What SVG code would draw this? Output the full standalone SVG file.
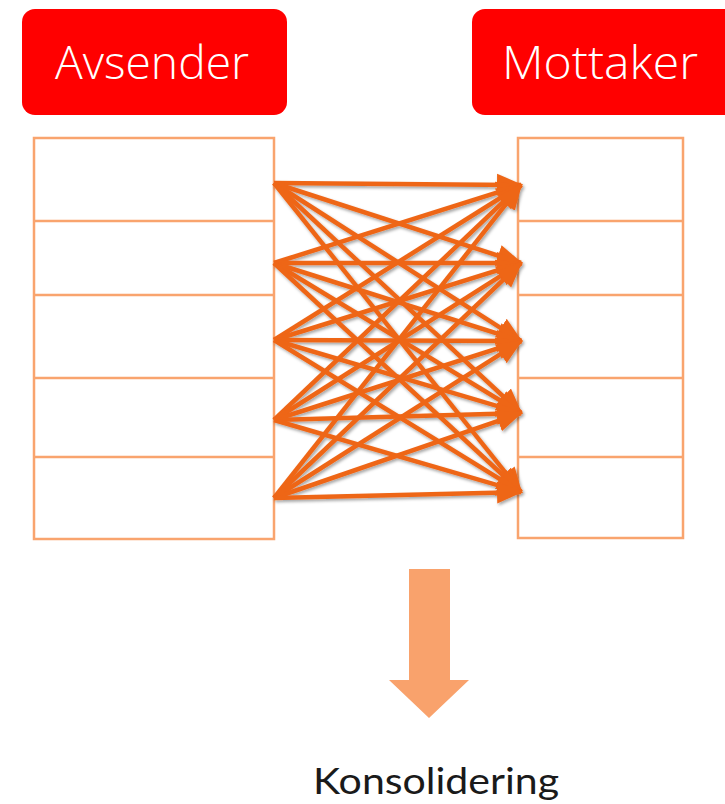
<svg xmlns="http://www.w3.org/2000/svg" width="725" height="804" viewBox="0 0 725 804">
<style>
.hdr{fill:#FF0000}
.hdrtxt{fill:#FFFFFF;font-family:"Open Sans","Liberation Sans",sans-serif;font-weight:300;font-size:46px}
.tbl{fill:#FFFFFF;stroke:#F9A46E;stroke-width:2.5}
.row{stroke:#F9A46E;stroke-width:2.5}
.con{stroke:#EE6618;stroke-width:4.5;fill:none;marker-end:url(#ah)}
.lbl{fill:#1A1A1A;font-family:Lato,"Liberation Sans",sans-serif;font-size:37px}
</style>
<defs>
<marker id="ah" markerUnits="userSpaceOnUse" markerWidth="26" markerHeight="26" viewBox="0 0 26 26" refX="24" refY="13" orient="auto">
<path d="M0,2 L26,13 L0,24 Z" fill="#EE6618"/>
</marker>
<filter id="sh" x="-10%" y="-10%" width="120%" height="120%">
<feDropShadow dx="1.5" dy="2" stdDeviation="1.5" flood-color="#000" flood-opacity="0.35"/>
</filter>
</defs>
<rect width="725" height="804" fill="#FFFFFF"/>
<g id="avsender">
<rect class="hdr" x="22" y="9" width="265" height="106" rx="13"/>
<text class="hdrtxt" x="152" y="79" text-anchor="middle" textLength="194" lengthAdjust="spacingAndGlyphs">Avsender</text>
</g>
<g id="mottaker">
<rect class="hdr" x="472" y="9" width="270" height="106" rx="13"/>
<text class="hdrtxt" x="600" y="79" text-anchor="middle" textLength="196" lengthAdjust="spacingAndGlyphs">Mottaker</text>
</g>
<g id="sender-table">
<rect class="tbl" x="34" y="138" width="240" height="401"/>
<line class="row" x1="34" y1="221" x2="274" y2="221"/>
<line class="row" x1="34" y1="295" x2="274" y2="295"/>
<line class="row" x1="34" y1="378" x2="274" y2="378"/>
<line class="row" x1="34" y1="457" x2="274" y2="457"/>
</g>
<g id="receiver-table">
<rect class="tbl" x="518" y="138" width="165" height="400"/>
<line class="row" x1="518" y1="221" x2="683" y2="221"/>
<line class="row" x1="518" y1="295" x2="683" y2="295"/>
<line class="row" x1="518" y1="378" x2="683" y2="378"/>
<line class="row" x1="518" y1="457" x2="683" y2="457"/>
</g>
<g id="connectors" filter="url(#sh)">
<line class="con" x1="274" y1="183" x2="521" y2="185"/>
<line class="con" x1="274" y1="183" x2="521" y2="263"/>
<line class="con" x1="274" y1="183" x2="521" y2="341"/>
<line class="con" x1="274" y1="183" x2="521" y2="413"/>
<line class="con" x1="274" y1="183" x2="521" y2="492"/>
<line class="con" x1="274" y1="263" x2="521" y2="185"/>
<line class="con" x1="274" y1="263" x2="521" y2="263"/>
<line class="con" x1="274" y1="263" x2="521" y2="341"/>
<line class="con" x1="274" y1="263" x2="521" y2="413"/>
<line class="con" x1="274" y1="263" x2="521" y2="492"/>
<line class="con" x1="274" y1="340" x2="521" y2="185"/>
<line class="con" x1="274" y1="340" x2="521" y2="263"/>
<line class="con" x1="274" y1="340" x2="521" y2="341"/>
<line class="con" x1="274" y1="340" x2="521" y2="413"/>
<line class="con" x1="274" y1="340" x2="521" y2="492"/>
<line class="con" x1="274" y1="420" x2="521" y2="185"/>
<line class="con" x1="274" y1="420" x2="521" y2="263"/>
<line class="con" x1="274" y1="420" x2="521" y2="341"/>
<line class="con" x1="274" y1="420" x2="521" y2="413"/>
<line class="con" x1="274" y1="420" x2="521" y2="492"/>
<line class="con" x1="274" y1="498" x2="521" y2="185"/>
<line class="con" x1="274" y1="498" x2="521" y2="263"/>
<line class="con" x1="274" y1="498" x2="521" y2="341"/>
<line class="con" x1="274" y1="498" x2="521" y2="413"/>
<line class="con" x1="274" y1="498" x2="521" y2="492"/>
</g>
<g id="konsolidering">
<path d="M409,569 H450 V680 H469 L429,718 L389,680 H409 Z" fill="#F9A26C"/>
<text class="lbl" x="436" y="794" text-anchor="middle" textLength="246" lengthAdjust="spacingAndGlyphs">Konsolidering</text>
</g>
</svg>
